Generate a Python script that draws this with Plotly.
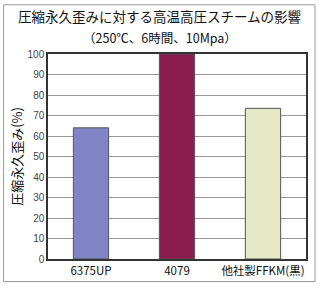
import plotly.graph_objects as go

categories = ["6375UP", "4079", "他社製FFKM(黒)"]
values = [64, 100, 73.5]
colors = ["#8084c4", "#8a1c4e", "#e6e9c6"]
yticks = [0, 10, 20, 30, 40, 50, 60, 70, 80, 90, 100]
title_lines = ["圧縮永久歪みに対する高温高圧スチームの影響", "（250℃、6時間、10Mpa）"]

fig = go.Figure(go.Bar(
    x=categories, y=values,
    marker=dict(color=colors, line=dict(color="#555555", width=1)),
))
font = "Noto Sans CJK JP"
fig.update_layout(
    width=320, height=290,
    margin=dict(l=48, r=14, t=54, b=25),
    paper_bgcolor="white", plot_bgcolor="white",
    bargap=0.59,
    showlegend=False,
    font=dict(family=font, color="#222222"),
    annotations=[
        dict(text=title_lines[0], xref="paper", yref="paper", x=0.434, y=1.185,
             xanchor="center", yanchor="middle", showarrow=False,
             font=dict(size=13.5, family=font, color="#111111")),
        dict(text=title_lines[1], xref="paper", yref="paper", x=0.434, y=1.08,
             xanchor="center", yanchor="middle", showarrow=False,
             font=dict(size=12.5, family=font, color="#111111")),
    ],
    shapes=[dict(type="rect", xref="paper", yref="paper", x0=-0.172, x1=1.035, y0=-0.11, y1=1.24,
                 line=dict(color="#999999", width=1))],
)
fig.update_xaxes(
    showline=True, linecolor="#333333", linewidth=1.5, mirror=True,
    tickfont=dict(size=11.5, family=font, color="#111111"),
    ticks="",
)
fig.update_yaxes(
    range=[0, 100], tickvals=yticks, showgrid=True, gridcolor="#999999", gridwidth=1,
    showline=True, linecolor="#333333", linewidth=1.5, mirror=True,
    tickfont=dict(size=10, family="Liberation Sans", color="#444444"),
    title=dict(text="圧縮永久歪み(%)", font=dict(size=13, family=font, color="#111111"), standoff=2),
    ticks="", zeroline=False,
)
fig.write_html("out.html")
